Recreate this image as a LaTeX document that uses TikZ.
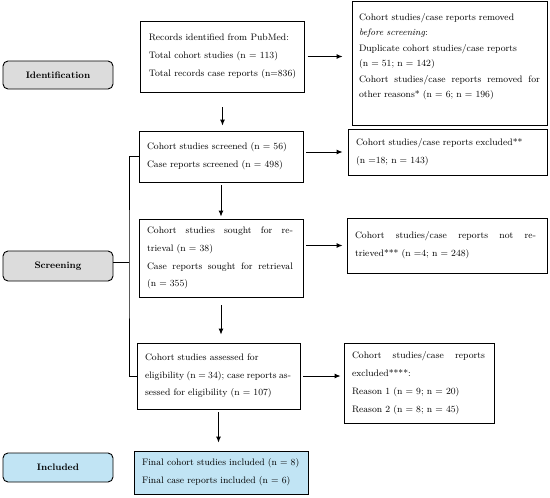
\documentclass[tikz,border=0pt]{standalone}
\usetikzlibrary{arrows.meta}

\definecolor{phgray}{RGB}{220,220,220}
\definecolor{phblue}{RGB}{193,228,244}
\newcommand{\jl}[2]{\makebox[#1][s]{\spaceskip=0pt\xspaceskip=0pt #2}}

\begin{document}
\begin{tikzpicture}[
  x=1pt, y=-1pt,
  font=\fontsize{9.4}{17.8}\selectfont,
  >={Latex[length=6pt,width=5pt]},
  b/.style={draw, line width=0.9pt, align=left, inner xsep=8pt, inner ysep=3pt},
  ph/.style={draw, line width=0.9pt, rounded corners=5pt, fill=phgray, minimum width=110pt, font=\fontsize{9.4}{11}\selectfont\bfseries},
  ar/.style={->, line width=0.9pt}
]
  \useasboundingbox (0,0) rectangle (550,498);

  % phase labels
  \node[ph, minimum height=28pt] (idn)  at (58,75)    {Identification};
  \node[ph, minimum height=30pt] (scrn) at (58,266)   {Screening};
  \node[ph, minimum height=29pt, fill=phblue] (inc) at (58,467.5) {Included};

  % main column
  \node[b, minimum width=161pt, minimum height=71pt] (rec) at (222.5,56.5)
    {Records identified from PubMed:\\Total cohort studies (n = 113)\\Total records case reports (n=836)};
  \node[b, text width=148pt, minimum height=51pt] (scr) at (221,156.5)
    {Cohort studies screened (n = 56)\\Case reports screened (n = 498)};
  \node[b, text width=148pt, minimum height=78pt] (sgt) at (221,258)
    {\jl{146pt}{Cohort studies sought for re-}\\trieval (n = 38)\\\jl{146pt}{Case reports sought for retrieval}\\(n = 355)};
  \node[b, text width=147pt, minimum height=66pt] (ass) at (218.5,376)
    {Cohort studies assessed for\\\jl{146pt}{eligibility (n = 34); case reports as-}\\sessed for eligibility (n = 107)};
  \node[b, text width=158pt, minimum height=43pt, fill=phblue] (fin) at (221,472.5)
    {Final cohort studies included (n = 8)\\Final case reports included (n = 6)};

  % side column
  \node[b, inner xsep=7pt, text width=181pt, minimum height=124pt, font=\fontsize{9.4}{15.5}\selectfont] (rem) at (449.5,63)
    {Cohort studies/case reports removed\\\textit{before screening}:\\Duplicate cohort studies/case reports\\(n = 51; n = 142)\\\jl{181pt}{Cohort studies/case reports removed for}\\other reasons* (n = 6; n = 196)\\\mbox{}};
  \node[b, text width=183pt, minimum height=46pt] (exc) at (447.5,152)
    {Cohort studies/case reports excluded**\\(n =18; n = 143)};
  \node[b, text width=184pt, minimum height=55pt] (nrt) at (447,245.5)
    {\jl{181pt}{Cohort studies/case reports not re-}\\trieved*** (n =4; n = 248)};
  \node[b, text width=134pt, minimum height=80pt] (exl) at (419,383)
    {\jl{133pt}{Cohort studies/case reports}\\excluded****:\\Reason 1 (n = 9; n = 20)\\Reason 2 (n = 8; n = 45)};

  % arrows down
  \draw[ar, shorten <=15pt, shorten >=5pt] (rec.south) -- (rec.south |- scr.north);
  \draw[ar, shorten <=3pt, shorten >=2pt] (scr.south) -- (sgt.north);
  \draw[ar, shorten <=8pt, shorten >=8pt] (sgt.south) -- (sgt.south |- ass.north);
  \draw[ar, shorten <=3pt, shorten >=8pt] (ass.south) -- (ass.south |- fin.north);

  % arrows right
  \draw[ar, shorten <=3pt, shorten >=9pt] (rec.east) -- (rec.east -| rem.west);
  \draw[ar, shorten <=3pt, shorten >=5pt] (scr.east |- exc.west) -- (exc.west);
  \draw[ar, shorten <=3pt, shorten >=4pt] (sgt.east |- nrt.west) -- (nrt.west);
  \draw[ar, shorten <=3pt, shorten >=3pt] (ass.east) -- (ass.east -| exl.west);

  % bracket
  \coordinate (brk) at (129,262);
  \draw[line width=0.9pt] (scrn.east |- brk) -- (brk);
  \draw[line width=0.9pt] (scr.west) -| (brk) |- (ass.west);
\end{tikzpicture}
\end{document}
